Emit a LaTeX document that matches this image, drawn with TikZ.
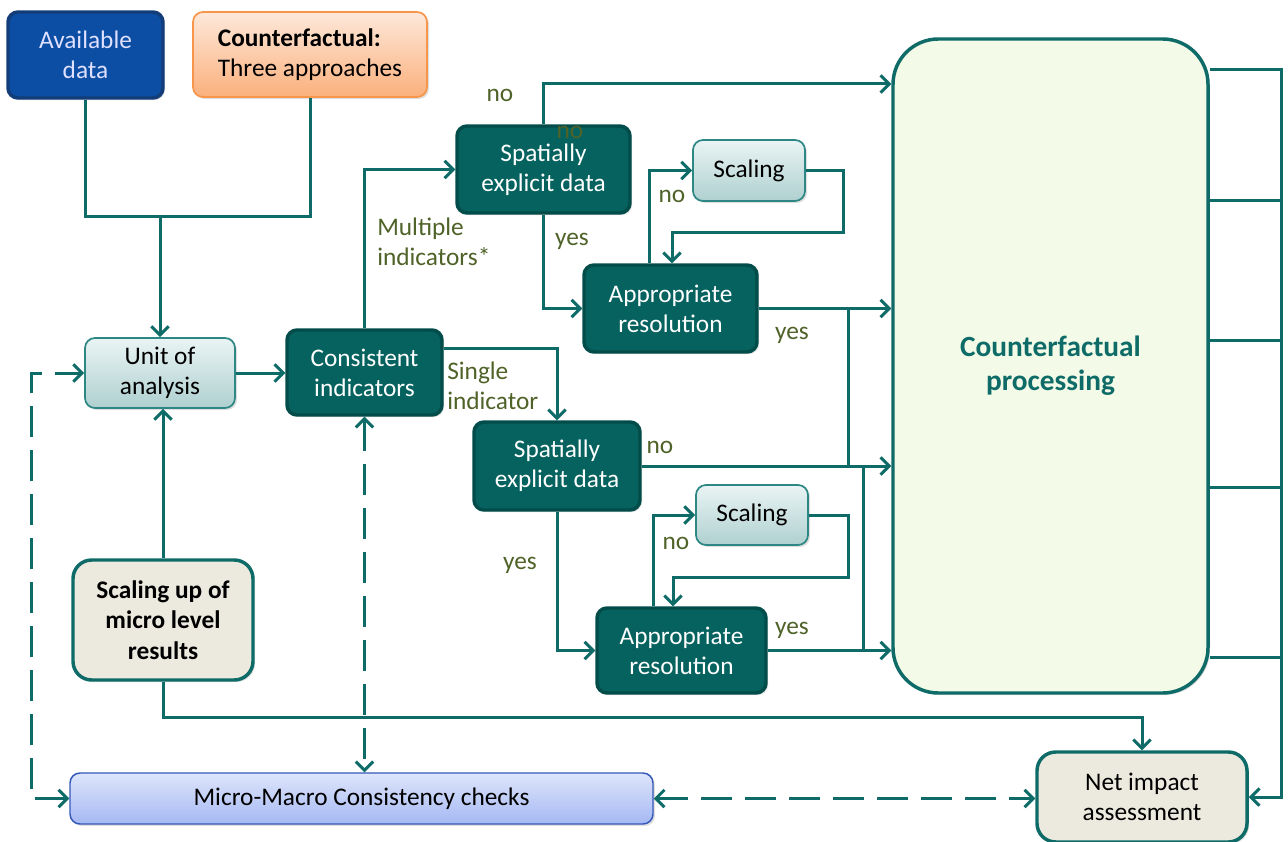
\documentclass[tikz,border=0pt]{standalone}
\usepackage{fontspec}
\setmainfont{Carlito}
\usetikzlibrary{arrows.meta,calc,shadows}

\definecolor{tealline}{HTML}{0E6B67}
\definecolor{darkteal}{HTML}{05625E}
\definecolor{darktealborder}{HTML}{024C49}
\definecolor{lighttop}{HTML}{EAF4F4}
\definecolor{lightbot}{HTML}{AFD0D0}
\definecolor{lightborder}{HTML}{2C8785}
\definecolor{availfill}{HTML}{0B4EA3}
\definecolor{availborder}{HTML}{123D78}
\definecolor{cftop}{HTML}{FDE8DA}
\definecolor{cfbot}{HTML}{FBB07C}
\definecolor{cfborder}{HTML}{F7964A}
\definecolor{procfill}{HTML}{F3FBE8}
\definecolor{beige}{HTML}{ECEADF}
\definecolor{microtop}{HTML}{DEE5FB}
\definecolor{microbot}{HTML}{A5B8F3}
\definecolor{microborder}{HTML}{3458B8}
\definecolor{olive}{HTML}{4F6228}

\begin{document}
\begin{tikzpicture}[x=0.75pt,y=-0.75pt,
  font=\fontsize{19}{22.5}\selectfont,
  shade/.style={drop shadow={opacity=0.25,shadow xshift=1.5pt,shadow yshift=-1.5pt}},
  basebox/.style={rounded corners=7.5pt, align=center, inner sep=0pt, shade},
  darkbox/.style={basebox, fill=darkteal, draw=darktealborder, line width=2.6pt, text=white},
  lightbox/.style={basebox, top color=lighttop, bottom color=lightbot, draw=lightborder, line width=1.3pt, text=black},
  beigebox/.style={basebox, fill=beige, draw=tealline, line width=2.6pt, text=black, rounded corners=14pt},
  lbl/.style={text=olive, inner sep=0pt, align=left},
  conn/.style={draw=tealline, line width=2.25pt},
  arr/.style={conn, -{Straight Barb[length=6.5pt,width=13pt]}},
  darr/.style={conn, dash pattern=on 23pt off 10pt, {Straight Barb[length=6.5pt,width=13pt]}-{Straight Barb[length=6.5pt,width=13pt]}},
]
\useasboundingbox (0,0) rectangle (1288,842);

% ---- boxes ----
\node[basebox, fill=availfill, draw=availborder, line width=2.6pt, text=white!88!blue,
      minimum width=116.25pt, minimum height=64.5pt] (avail) at (85.5,55) {Available\\data};
\node[basebox, top color=cftop, bottom color=cfbot, draw=cfborder, line width=1.3pt, align=left,
      minimum width=175.5pt, minimum height=63.75pt] (cf) at (310,54.5) {\textbf{Counterfactual:}\\Three approaches};

\node[lightbox, minimum width=112.5pt, minimum height=52.5pt] (unit) at (160,373) {Unit of\\analysis};
\node[darkbox, minimum width=116.25pt, minimum height=63.75pt] (consist) at (364.5,372.5) {Consistent\\indicators};

\node[darkbox, minimum width=129.75pt, minimum height=65.25pt] (sed1) at (543.5,169.5) {Spatially\\explicit data};
\node[darkbox, minimum width=129.75pt, minimum height=65.25pt] (ar1) at (670.5,308.5) {Appropriate\\resolution};
\node[lightbox, minimum width=84pt, minimum height=45.75pt] (sc1) at (749,170.5) {Scaling};

\node[darkbox, minimum width=124.5pt, minimum height=66pt] (sed2) at (557,466) {Spatially\\explicit data};
\node[darkbox, minimum width=126.75pt, minimum height=63.75pt] (ar2) at (681.5,650.5) {Appropriate\\resolution};
\node[lightbox, minimum width=84pt, minimum height=45pt] (sc2) at (752,515) {Scaling};

\node[basebox, fill=procfill, draw=tealline, line width=2.6pt, rounded corners=34pt,
      minimum width=236.25pt, minimum height=490.5pt,
      text=tealline, font=\fontsize{22}{25.5}\selectfont\bfseries] (cfp) at (1050.5,366) {Counterfactual\\processing};

\node[beigebox, font=\fontsize{19}{22.8}\selectfont\bfseries,
      minimum width=135pt, minimum height=90pt] (scaleup) at (163,620) {Scaling up of\\micro level\\results};
\node[basebox, top color=microtop, bottom color=microbot, draw=microborder, line width=1.1pt,
      minimum width=437.25pt, minimum height=38.25pt] (micro) at (361.5,798.5) {Micro-Macro Consistency checks};
\node[beigebox, minimum width=157.5pt, minimum height=67.5pt] (net) at (1142,797) {Net impact\\assessment};

% ---- inputs to the unit of analysis ----
\coordinate (j1) at (160,216);
\draw[conn] (avail.south) |- (j1) -| (cf.south);
\draw[arr] (j1) -- (unit.north);
\draw[arr] (unit.east) -- (unit.east -| consist.west);
\draw[arr] (scaleup.north) -- (scaleup.north |- unit.south);

% ---- consistency checks (dashed) ----
\draw[darr] (micro.west) -- ++(-38,0) |- (unit.west);
\draw[darr] (consist.south) -- (consist.south |- micro.north);
\draw[darr] (micro.east) -- (micro.east -| net.west);

% ---- scaling up to net impact ----
\draw[arr] (scaleup.south) -- ++(0,36) -| (net.north);

% ---- multiple indicators branch ----
\coordinate (yno1) at (0,84);
\draw[arr] (consist.north) |- (sed1.west);
\draw[arr] (sed1.north) |- (cfp.west |- yno1);
\draw[arr] (sed1.south) |- (ar1.west);
\draw[arr] (ar1.east) -- (ar1.east -| cfp.west);
\draw[arr] ($(ar1.north)+(-21,0)$) |- (sc1.west);
\draw[arr] (sc1.east) -- ++(38,0) -- ++(0,62) -| ($(ar1.north)+(1.5,0)$);
\coordinate (j3) at ($(ar1.east)+(90,0)$);
\draw[conn] (j3) -- (j3 |- sed2.east);

% ---- single indicator branch ----
\draw[arr] ($(consist.east)+(0,-24.5)$) -| (sed2.north);
\draw[arr] (sed2.east) -- (sed2.east -| cfp.west);
\draw[arr] (sed2.south) |- (ar2.west);
\draw[arr] (ar2.east) -- (ar2.east -| cfp.west);
\draw[arr] ($(ar2.north)+(-28.5,0)$) |- (sc2.west);
\draw[arr] (sc2.east) -- ++(40,0) -- ++(0,62) -| ($(ar2.north)+(-8.5,0)$);
\coordinate (j4) at ($(ar2.east)+(96,0)$);
\draw[conn] (j4) -- (j4 |- sed2.east);

% ---- outputs of counterfactual processing ----
\coordinate (rb) at (1281,0);
\draw[arr] (cfp.east |- 0,70) -| (rb |- net.east) -- (net.east);
\foreach \yy in {200,340,487,657}
  \draw[conn] (cfp.east |- 0,\yy) -- (rb |- 0,\yy);

% ---- branch labels ----
\node[lbl] (l1) at (500,95) {no};
\node[lbl] (l2) at (570,132) {no};
\node[lbl] (l3) at (572,241) {yes};
\node[lbl] (l4) at (672,196) {no};
\node[lbl] (l5) at (792,335) {yes};
\node[lbl, anchor=west] (l6) at (377,242) {Multiple\\indicators*};
\node[lbl, anchor=west] (l7) at (447,386) {Single\\indicator};
\node[lbl] (l8) at (660,447) {no};
\node[lbl] (l9) at (520,565) {yes};
\node[lbl] (l10) at (676,543) {no};
\node[lbl] (l11) at (792,630) {yes};
\end{tikzpicture}
\end{document}
